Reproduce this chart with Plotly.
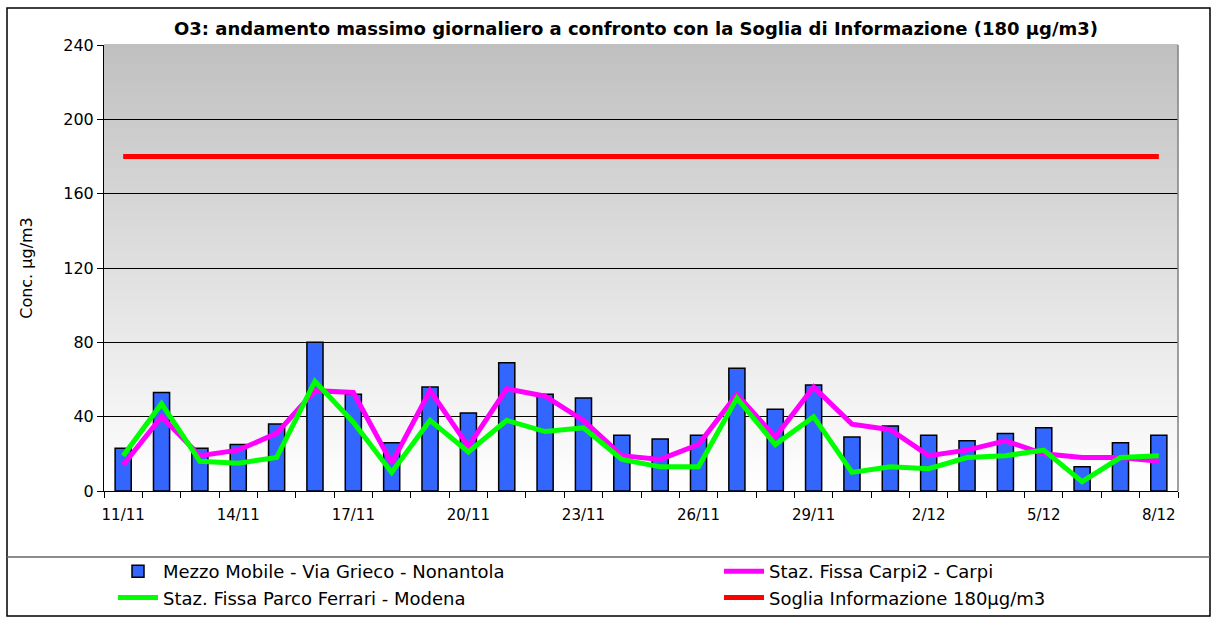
import plotly.graph_objects as go

dates = ["11/11", "12/11", "13/11", "14/11", "15/11", "16/11", "17/11", "18/11", "19/11", "20/11",
         "21/11", "22/11", "23/11", "24/11", "25/11", "26/11", "27/11", "28/11", "29/11", "30/11",
         "1/12", "2/12", "3/12", "4/12", "5/12", "6/12", "7/12", "8/12"]

mezzo_mobile = [23, 53, 23, 25, 36, 80, 52, 26, 56, 42,
                69, 52, 50, 30, 28, 30, 66, 44, 57, 29,
                35, 30, 27, 31, 34, 13, 26, 30]

carpi = [14, 40, 19, 22, 31, 54, 53, 15, 54, 24,
         55, 51, 38, 19, 17, 25, 52, 29, 56, 36,
         33, 19, 22, 27, 20, 18, 18, 16]

modena = [19, 47, 16, 15, 18, 59, 37, 10, 38, 21,
          38, 32, 34, 17, 13, 13, 50, 25, 40, 10,
          13, 12, 18, 19, 22, 5, 18, 19]

soglia = [180] * len(dates)

y_ticks = [0, 40, 80, 120, 160, 200, 240]

W, H = 1211, 617
ML, MR, MT, MB = 104, 33, 45, 126
PW, PH = W - ML - MR, H - MT - MB


def px_x(px):
    return (px - ML) / PW


def px_y(py):
    return (H - MB - py) / PH


idx = list(range(len(dates)))
font_family = "DejaVu Sans, Verdana, sans-serif"

fig = go.Figure()
fig.add_trace(go.Bar(
    x=idx, y=mezzo_mobile, name="Mezzo Mobile - Via Grieco - Nonantola",
    marker=dict(color="#3366ff", line=dict(color="black", width=1.5)),
    width=0.42, legend="legend", legendrank=1,
))
fig.add_trace(go.Scatter(
    x=idx, y=carpi, name="Staz. Fissa Carpi2 - Carpi", mode="lines",
    line=dict(color="#ff00ff", width=5), legend="legend2", legendrank=1,
))
fig.add_trace(go.Scatter(
    x=idx, y=modena, name="Staz. Fissa Parco Ferrari - Modena", mode="lines",
    line=dict(color="#00ff00", width=5), legend="legend", legendrank=2,
))
fig.add_trace(go.Scatter(
    x=idx, y=soglia, name="Soglia Informazione 180µg/m3", mode="lines",
    line=dict(color="#ff0000", width=5), legend="legend2", legendrank=2,
))

shapes = []
# gradient background of plot area
N = 120
top = (0xc0, 0xc0, 0xc0)
for i in range(N):
    f0 = i / N
    f1 = (i + 1) / N
    t = (f0 + f1) / 2
    c = tuple(int(round(255 + (top[k] - 255) * t)) for k in range(3))
    shapes.append(dict(type="rect", xref="x domain", yref="y domain",
                       x0=0, x1=1, y0=f0, y1=f1 + 0.002, layer="below",
                       line=dict(width=0), fillcolor="rgb(%d,%d,%d)" % c))
# plot area right border
shapes.append(dict(type="line", xref="x domain", yref="y domain", x0=1, x1=1, y0=0, y1=1,
                   line=dict(color="#808080", width=1.5)))
# outer chart border
shapes.append(dict(type="rect", xref="paper", yref="paper",
                   x0=px_x(7), x1=px_x(1210), y0=px_y(616), y1=px_y(8),
                   line=dict(color="black", width=1.5), layer="above"))
# legend separator
shapes.append(dict(type="line", xref="paper", yref="paper",
                   x0=px_x(7), x1=px_x(1210), y0=px_y(557), y1=px_y(557),
                   line=dict(color="#666666", width=1.5)))

legend_common = dict(orientation="v", xanchor="left", yanchor="top",
                     yref="paper", xref="paper",
                     font=dict(size=18, family=font_family, color="black"),
                     bgcolor="rgba(0,0,0,0)", itemwidth=40, tracegroupgap=0)

fig.update_layout(
    width=W, height=H,
    margin=dict(l=ML, r=MR, t=MT, b=MB, pad=0, autoexpand=False),
    paper_bgcolor="white", plot_bgcolor="white",
    font=dict(family=font_family, size=15, color="black"),
    title=dict(text="<b>O3: andamento massimo giornaliero a confronto con la Soglia di Informazione (180 µg/m3)</b>",
               x=px_x(636), xref="paper", xanchor="center", y=1 - 29 / H, yanchor="middle",
               font=dict(size=18, family=font_family)),
    showlegend=True,
    legend=dict(x=px_x(113), y=px_y(553), **legend_common),
    legend2=dict(x=px_x(719), y=px_y(553), **legend_common),
    shapes=shapes,
)

fig.update_xaxes(
    range=[-0.5, len(dates) - 0.5],
    tickmode="array", tickvals=idx[::3], ticktext=dates[::3],
    ticks="", showgrid=False, zeroline=False,
    showline=True, linecolor="black", linewidth=1,
    tickfont=dict(size=15, family=font_family),
    minor=dict(ticks="outside", tick0=-0.5, dtick=1, ticklen=6, tickcolor="black", tickwidth=1, showgrid=False),
    ticklabelstandoff=10,
)
fig.update_yaxes(
    range=[0, 240], tickmode="array", tickvals=y_ticks,
    ticks="outside", ticklen=6, tickcolor="black", tickwidth=1,
    showgrid=True, gridcolor="black", gridwidth=1,
    zeroline=False, showline=True, linecolor="black", linewidth=1,
    tickfont=dict(size=16, family=font_family),
    title=dict(text="Conc. µg/m3", font=dict(size=16, family=font_family), standoff=26),
)

fig.write_html("out.html", config={"displayModeBar": False},
               post_script="document.body.style.margin='0';document.body.style.overflow='hidden';")
